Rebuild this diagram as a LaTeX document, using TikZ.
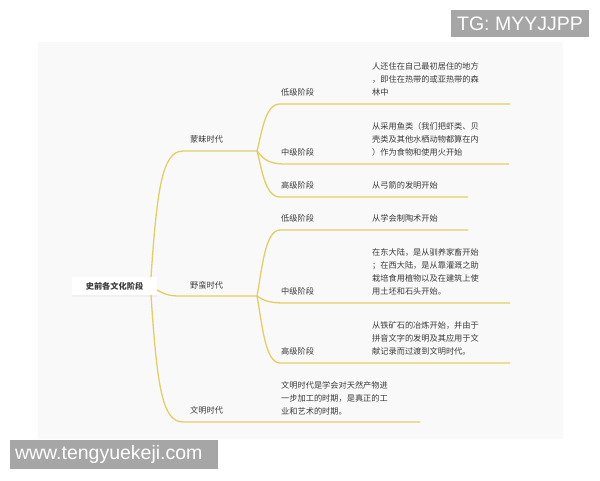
\documentclass[tikz,border=0pt]{standalone}
\usepackage{fontspec}
\setmainfont{Liberation Sans}
\newfontfamily\cjk{Noto Sans CJK SC}
\usetikzlibrary{shadows}
\definecolor{branchyellow}{RGB}{228,206,98}
\definecolor{mapgray}{RGB}{58,58,58}
\definecolor{panelgray}{RGB}{249,249,249}
\definecolor{markgray}{RGB}{166,166,166}
\tikzset{
    branch/.style={draw=branchyellow, line width=1.3pt},
    topic/.style={anchor=west, inner sep=0pt, text=mapgray, font=\cjk\fontsize{8.2}{13}\selectfont},
    note/.style={topic, align=left},
    watermark/.style={fill=markgray, text=white, inner sep=0pt, font=\fontsize{19.5}{20}\selectfont}
}
\begin{document}
\begin{tikzpicture}[x=1pt, y=-1pt]
    \useasboundingbox (0,0) rectangle (600,480);
    \fill[panelgray] (38,42) rectangle (563,439);
    % root
    \node[fill=white, minimum width=85pt, minimum height=18pt, inner sep=0pt, text=mapgray,
          drop shadow={opacity=0.08, shadow xshift=0pt, shadow yshift=-1.5pt},
          font=\cjk\bfseries\fontsize{8.2}{10}\selectfont] (root) at (114.5,286) {史前各文化阶段};
    \coordinate (root-up) at (151,277);
    \coordinate (root-mid) at (157,290);
    \coordinate (root-down) at (151,295);
    % eras
    \coordinate (mm-a) at (183,151);
    \coordinate (mm) at (257,151);
    \coordinate (ym-a) at (183,296);
    \coordinate (ym) at (257,296);
    \coordinate (wm-a) at (183,422);
    \coordinate (wm-b) at (420,422);
    \node[topic] (mm-label) at (190,139) {蒙昧时代};
    \node[topic] (ym-label) at (190,285) {野蛮时代};
    \node[topic] (wm-label) at (190,410) {文明时代};
    \draw[branch] (root-up) .. controls (157,190) and (162,151) .. (mm-a) -- (mm);
    \draw[branch] (root-mid) .. controls (168,296) and (172,296) .. (ym-a) -- (ym);
    \draw[branch] (root-down) .. controls (157,385) and (162,422) .. (wm-a) -- (wm-b);
    % stages
    \foreach \fork/\fy/\ly/\lx/\ex/\txt [count=\i] in {
        mm/151/104/280/510/低级阶段, mm/151/164/285/509/中级阶段, mm/151/197/280/468/高级阶段,
        ym/296/230/280/468/低级阶段, ym/296/303/285/510/中级阶段, ym/296/363/280/510/高级阶段} {
        \coordinate (stage\i-a) at (\lx,\ly);
        \coordinate (stage\i-b) at (\ex,\ly);
        \node[topic] (stage\i) at (281,\ly-12) {\txt};
        \draw[branch] (\fork) .. controls (262,{\fy+0.4*(\ly-\fy)}) and (265,\ly) .. (stage\i-a) -- (stage\i-b);
    }
    % notes
    \node[note] (note1) at (372,79) {人还住在自己最初居住的地方\\，即住在热带的或亚热带的森\\林中};
    \node[note] (note2) at (372,139) {从采用鱼类（我们把虾类、贝\\壳类及其他水栖动物都算在内\\）作为食物和使用火开始};
    \node[note] (note3) at (372,185) {从弓箭的发明开始};
    \node[note] (note4) at (372,218) {从学会制陶术开始};
    \node[note] (note5) at (372,271.5) {在东大陆，是从驯养家畜开始\\；在西大陆，是从靠灌溉之助\\栽培食用植物以及在建筑上使\\用土坯和石头开始。};
    \node[note] (note6) at (372,338) {从铁矿石的冶炼开始，并由于\\拼音文字的发明及其应用于文\\献记录而过渡到文明时代。};
    \node[note] (note7) at (281,398) {文明时代是学会对天然产物进\\一步加工的时期，是真正的工\\业和艺术的时期。};
    % watermarks
    \node[watermark, minimum width=138pt, minimum height=27pt] (tg) at (520,23.5) {TG: MYYJJPP};
    \node[watermark, minimum height=29pt, inner xsep=5pt, text width=198pt, align=left] (site) at (114,454.5) {www.tengyuekeji.com};
\end{tikzpicture}
\end{document}
